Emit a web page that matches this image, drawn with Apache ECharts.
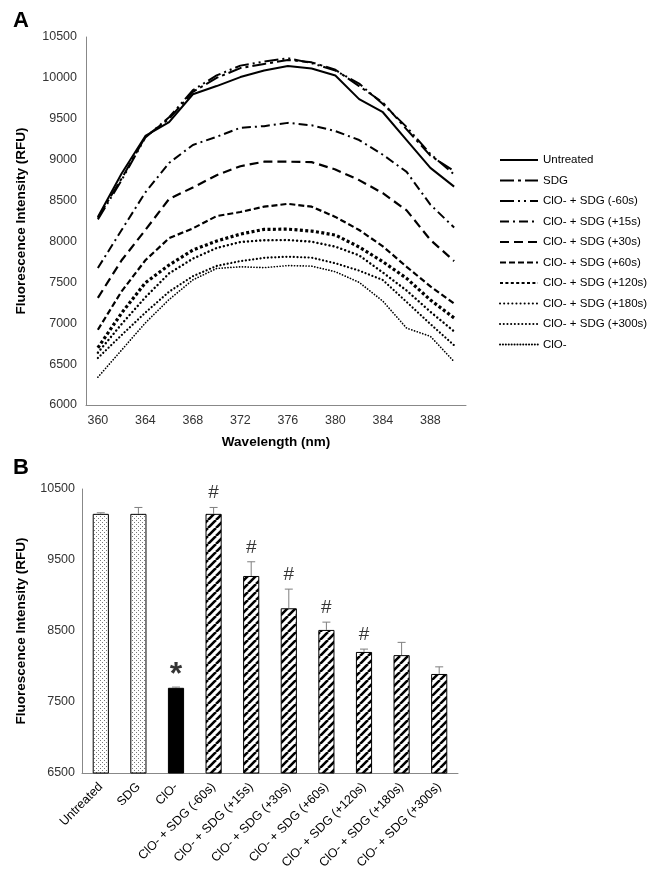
<!DOCTYPE html>
<html><head><meta charset="utf-8">
<script src="https://cdn.jsdelivr.net/npm/echarts@6/dist/echarts.min.js"></script>
<style>html,body{margin:0;padding:0;background:#fff}#c{width:649px;height:879px}</style>
</head><body><div id="c"></div>
<script>
// ---------- Panel A data ----------
const wavelengths = [360,362,364,366,368,370,372,374,376,378,380,382,384,386,388,390];
const untreated   = [8300,8830,9290,9460,9800,9900,10010,10090,10145,10115,10030,9740,9580,9240,8900,8670];
const sdg         = [8290,8770,9280,9500,9830,10000,10120,10170,10220,10190,10100,9900,9700,9370,9050,8860];
const cloSdgM60   = [8270,8750,9270,9520,9850,10030,10150,10200,10240,10180,10090,9930,9680,9400,9070,8820];
const cloSdgP15   = [7675,8140,8600,8960,9180,9280,9390,9410,9450,9420,9350,9240,9060,8850,8450,8170];
const cloSdgP30   = [7310,7770,8140,8520,8660,8810,8920,8975,8975,8970,8880,8750,8590,8380,8020,7760];
const cloSdgP60   = [6920,7390,7770,8040,8160,8310,8360,8425,8460,8425,8300,8140,7940,7690,7450,7240];
const cloSdgP120  = [6700,7125,7495,7712,7895,8005,8090,8148,8150,8127,8078,7932,7752,7549,7284,7064];
const cloSdgP180  = [6640,6990,7317,7610,7790,7920,7993,8015,8017,7997,7936,7830,7620,7400,7140,6900];
const cloSdgP300  = [6575,6855,7130,7386,7575,7700,7760,7800,7813,7802,7733,7643,7528,7260,6990,6730];
const clo         = [6340,6672,7005,7290,7530,7670,7690,7680,7705,7698,7630,7500,7270,6940,6840,6530];
const spectraNames = ['Untreated','SDG','ClO- + SDG (-60s)','ClO- + SDG (+15s)','ClO- + SDG (+30s)',
  'ClO- + SDG (+60s)','ClO- + SDG (+120s)','ClO- + SDG (+180s)','ClO- + SDG (+300s)','ClO-'];
const spectra = [untreated, sdg, cloSdgM60, cloSdgP15, cloSdgP30, cloSdgP60, cloSdgP120, cloSdgP180, cloSdgP300, clo];

// ---------- Panel B data ----------
const barCategories = ['Untreated','SDG','ClO-','ClO- + SDG (-60s)','ClO- + SDG (+15s)','ClO- + SDG (+30s)',
  'ClO- + SDG (+60s)','ClO- + SDG (+120s)','ClO- + SDG (+180s)','ClO- + SDG (+300s)'];
const barMeans  = [10150,10150,7700,10150,9275,8820,8515,8205,8160,7895];
const barErrors = [15,90,10,90,200,270,110,40,180,100];
const barMarks  = ['','','*','#','#','#','#','#','',''];
const barFills  = ['dots','dots','solid','hatch','hatch','hatch','hatch','hatch','hatch','hatch'];

// ---------- styles ----------
const lineStyles = [
  {width:2, type:'solid'},
  {width:2, type:[14,4,3,4]},
  {width:2, type:[14,4,2,4,2,4]},
  {width:2, type:[9,4,2,4]},
  {width:2.2, type:[9,5]},
  {width:2.2, type:[6,3]},
  {width:3.2, type:[3,2.4], cap:'butt'},
  {width:2.4, type:[0.1,4], cap:'round'},
  {width:2.2, type:[0.1,3.6], cap:'round'},
  {width:1.7, type:[0.1,2.8], cap:'round'}
];

function hatchCanvas(){
  const s=8, c=document.createElement('canvas'); c.width=c.height=s;
  const g=c.getContext('2d'); g.fillStyle='#fff'; g.fillRect(0,0,s,s);
  g.strokeStyle='#000'; g.lineWidth=2.6; g.beginPath();
  for(let k=-1;k<=1;k++){ g.moveTo(k*s, s); g.lineTo(k*s+s, 0); }
  g.stroke(); return c;
}
function dotsCanvas(){
  const s=4, c=document.createElement('canvas'); c.width=c.height=s;
  const g=c.getContext('2d'); g.fillStyle='#fff'; g.fillRect(0,0,s,s);
  g.fillStyle='#777'; g.fillRect(0,0,1,1); g.fillRect(2,2,1,1);
  return c;
}
const fills = {
  hatch: {image: hatchCanvas(), repeat:'repeat'},
  dots:  {image: dotsCanvas(), repeat:'repeat'},
  solid: '#000'
};

const FONT = 'Liberation Sans, Arial, sans-serif';
const chart = echarts.init(document.getElementById('c'), null, {renderer:'canvas'});

const lineSeries = spectra.map((d,i)=>({
  name: spectraNames[i], type:'line', xAxisIndex:0, yAxisIndex:0,
  data: d, symbol:'none', smooth:false, silent:true, animation:false,
  itemStyle:{color:'#000', opacity:0},
  lineStyle: Object.assign({color:'#000'}, lineStyles[i])
}));

const option = {
  animation:false,
  textStyle:{fontFamily:FONT},
  title:[
    {text:'A', left:8, top:5, textStyle:{fontSize:22, fontWeight:'bold', color:'#000', fontFamily:FONT}},
    {text:'B', left:8, top:452, textStyle:{fontSize:22, fontWeight:'bold', color:'#000', fontFamily:FONT}}
  ],
  legend:{
    data: spectraNames, orient:'vertical', left:494, top:149,
    itemWidth:38, itemHeight:14, itemGap:8.5, selectedMode:false,
    textStyle:{fontSize:11.5, color:'#000', fontFamily:FONT}
  },
  grid:[
    {left:86, top:37, width:380, height:368},
    {left:82, top:489, width:376, height:284}
  ],
  xAxis:[
    {gridIndex:0, type:'category', data:wavelengths, boundaryGap:true,
     axisLine:{lineStyle:{color:'#888', width:1}}, axisTick:{show:false},
     axisLabel:{interval:1, color:'#333', fontSize:12.5, margin:9, fontFamily:FONT},
     name:'Wavelength (nm)', nameLocation:'middle', nameGap:30,
     nameTextStyle:{fontSize:13.5, fontWeight:'bold', color:'#000', fontFamily:FONT}},
    {gridIndex:1, type:'category', data:barCategories, boundaryGap:true,
     axisLine:{lineStyle:{color:'#888', width:1}}, axisTick:{show:false},
     axisLabel:{interval:0, rotate:45, color:'#000', fontSize:12.5, margin:12, fontFamily:FONT}}
  ],
  yAxis:[
    {gridIndex:0, type:'value', min:6000, max:10500, interval:500,
     axisLine:{show:true, lineStyle:{color:'#888', width:1}}, axisTick:{show:false}, splitLine:{show:false},
     axisLabel:{color:'#333', fontSize:12.5, margin:9, fontFamily:FONT, formatter:v=>String(v)},
     name:'Fluorescence Intensity (RFU)', nameLocation:'middle', nameGap:58,
     nameTextStyle:{fontSize:13.5, fontWeight:'bold', color:'#000', fontFamily:FONT}},
    {gridIndex:1, type:'value', min:6500, max:10500, interval:500,
     axisLine:{show:true, lineStyle:{color:'#888', width:1}}, axisTick:{show:false}, splitLine:{show:false},
     axisLabel:{color:'#333', fontSize:12.5, margin:7, fontFamily:FONT,
       formatter:v=> ((v-6500)%1000===0 ? String(v) : '')},
     name:'Fluorescence Intensity (RFU)', nameLocation:'middle', nameGap:54,
     nameTextStyle:{fontSize:13.5, fontWeight:'bold', color:'#000', fontFamily:FONT}}
  ],
  series: lineSeries.concat([
    {type:'bar', xAxisIndex:1, yAxisIndex:1, barWidth:'43%', silent:true,
     data: barMeans.map((v,i)=>({value:v, itemStyle:{color:fills[barFills[i]], borderColor:'#000', borderWidth:1}}))},
    {type:'custom', xAxisIndex:1, yAxisIndex:1, silent:true, z:5,
     data: barMeans.map((v,i)=>[i, v, barErrors[i]]),
     encode:{x:0, y:1},
     renderItem:(params, api)=>{
       const i=api.value(0), m=api.value(1), e=api.value(2);
       const b=api.coord([i,m]), t=api.coord([i,m+e]);
       const cap=4;
       return {type:'group', children:[
         {type:'line', shape:{x1:b[0],y1:b[1],x2:t[0],y2:t[1]}, style:{stroke:'#7f7f7f', lineWidth:1}},
         {type:'line', shape:{x1:t[0]-cap,y1:t[1],x2:t[0]+cap,y2:t[1]}, style:{stroke:'#7f7f7f', lineWidth:1}}
       ]};
     }},
    {type:'scatter', xAxisIndex:1, yAxisIndex:1, silent:true, symbolSize:0, z:6,
     data: barMeans.map((v,i)=>{
       const star = barMarks[i]==='*';
       return {value:[i, v+barErrors[i]],
         label:{show: barMarks[i]!=='', position:'top', formatter: barMarks[i],
           distance: star ? -4 : 5,
           fontSize: star ? 32 : 19, fontWeight: star ? 'bold' : 'normal',
           color:'#000', fontFamily:FONT}};
     })}
  ])
};
chart.setOption(option);
</script></body></html>
